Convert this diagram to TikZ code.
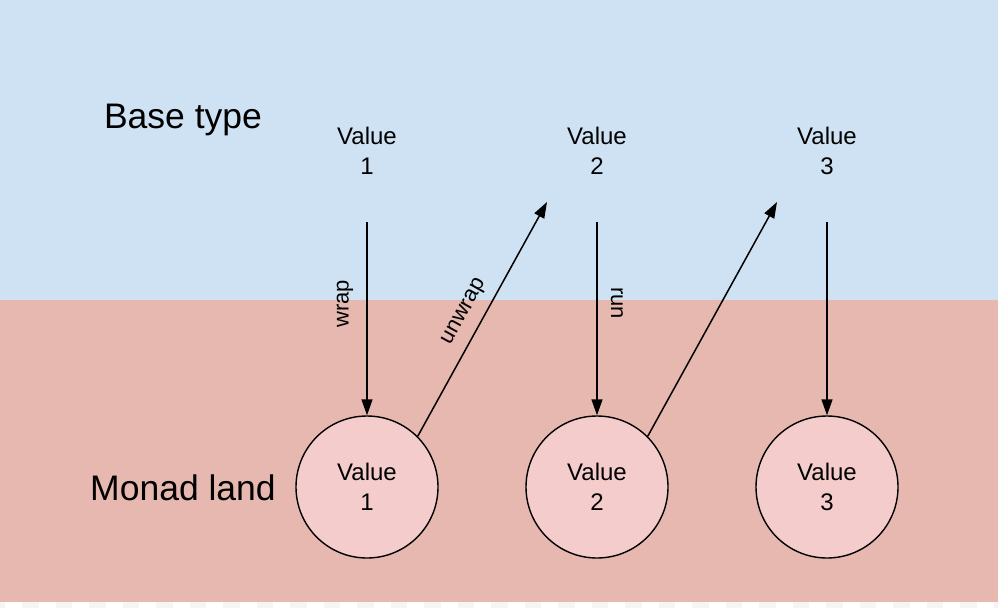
\documentclass[tikz,border=0pt]{standalone}
\usepackage{fontspec}
\setmainfont{Liberation Sans}
\usetikzlibrary{arrows.meta}
\definecolor{baseblue}{HTML}{CFE2F3}
\definecolor{monadred}{HTML}{E6B8AF}
\definecolor{circfill}{HTML}{F4CCCC}
\definecolor{checkgrey}{HTML}{F5F5F5}
\tikzset{
  valtext/.style={align=center,font=\fontsize{24}{30}\selectfont,text=black},
  topval/.style={valtext,minimum width=120pt,minimum height=142pt,inner sep=0pt},
  monadval/.style={valtext,circle,draw=black,line width=1.4pt,fill=circfill,minimum size=142pt,inner sep=0pt},
  region/.style={font=\fontsize{35.5}{40}\selectfont,text=black},
  arr/.style={-{Triangle[length=16pt,width=11pt]},line width=1.5pt,black},
  lbl/.style={font=\fontsize{22}{26}\selectfont,text=black,inner sep=0pt}
}
\begin{document}
\begin{tikzpicture}[x=1pt,y=-1pt]
\useasboundingbox (0,0) rectangle (998,608);
\fill[white] (0,0) rectangle (998,608);
\fill[baseblue] (0,0) rectangle (998,300);
\fill[monadred] (0,300) rectangle (998,601.5);
\fill[checkgrey] (0,601.5) rectangle (5,608);
\foreach \k in {0,...,29} {
  \fill[checkgrey] ({22+33.5*\k},601.5) rectangle ({38.7+33.5*\k},608);
}
\node[region] (base) at (183,120) {Base type};
\node[region] (monad) at (183,488) {Monad land};
\node[topval] (v1) at (367,151) {Value\\1};
\node[topval] (v2) at (597,151) {Value\\2};
\node[topval] (v3) at (827,151) {Value\\3};
\node[monadval] (c1) at (367,487) {Value\\1};
\node[monadval] (c2) at (597,487) {Value\\2};
\node[monadval] (c3) at (827,487) {Value\\3};
\coordinate (t2) at (547,202);
\coordinate (t3) at (777,202);
\draw[arr] (v1.south) -- (c1.north);
\draw[arr] (v2.south) -- (c2.north);
\draw[arr] (v3.south) -- (c3.north);
\draw[arr] (c1.45) -- (t2);
\draw[arr] (c2.45) -- (t3);
\node[lbl,rotate=90] (lwrap) at (345,304) {wrap};
\node[lbl,rotate=61] (lunwrap) at (465,312) {unwrap};
\node[lbl,rotate=-90] (lrun) at (617,303) {run};
\end{tikzpicture}
\end{document}
